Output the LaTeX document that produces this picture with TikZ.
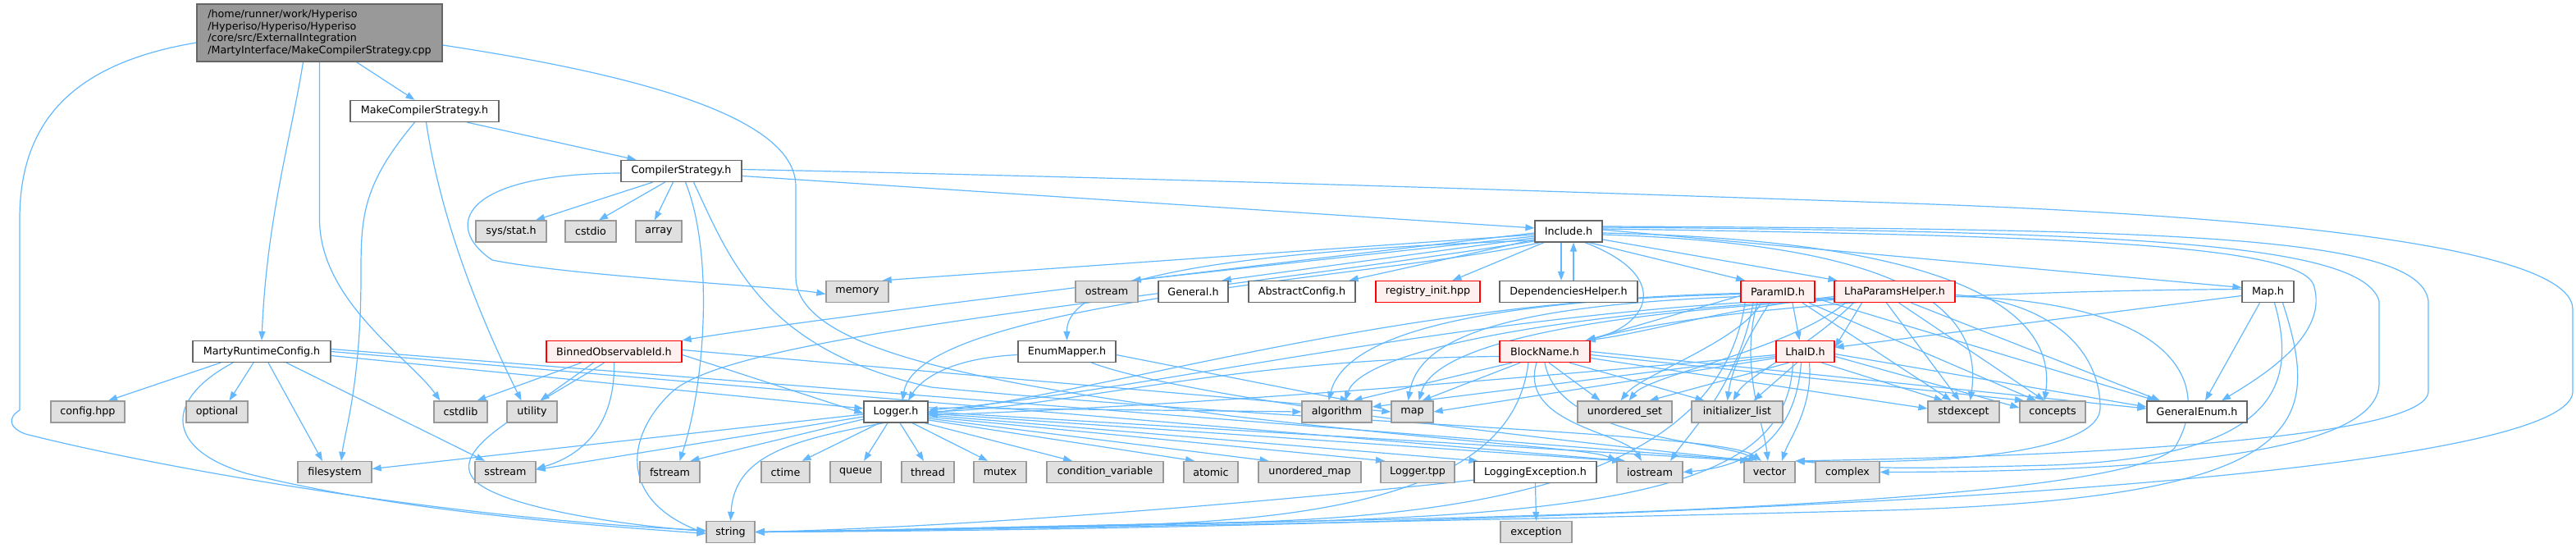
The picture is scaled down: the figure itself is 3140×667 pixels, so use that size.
\documentclass[tikz,border=0pt]{standalone}
\usepackage{fontspec}
\setmainfont{DejaVu Sans}
\usetikzlibrary{arrows.meta}
\definecolor{edgec}{HTML}{63B8FF}
\definecolor{bordw}{HTML}{666666}
\definecolor{fillm}{HTML}{999999}
\definecolor{bordg}{HTML}{999999}
\definecolor{fillg}{HTML}{E0E0E0}
\definecolor{fillr}{HTML}{FFF0F0}
\definecolor{bordr}{HTML}{FF0000}
\pgfdeclarelayer{edgelayer}
\pgfsetlayers{edgelayer,main}
\newcommand\mknode[6]{\node[#1,minimum width=#5pt] (#2) at (#3,#4) {#6};}
\begin{document}
\begin{tikzpicture}[x=1pt,y=1pt,
 box/.style={rectangle,inner sep=0pt,minimum height=26pt,line width=1.3pt,font=\fontsize{12.7pt}{14.8pt}\selectfont,text=black},
 nw/.style={box,draw=bordw,fill=white},
 nr/.style={box,draw=bordr,fill=fillr},
 ng/.style={box,draw=bordg,fill=fillg},
 dep/.style={draw=edgec,line width=1.2pt,-{Triangle[length=11pt,width=8pt]}},
]
\useasboundingbox (0,0) rectangle (3140,667);
% nodes
\node[box,draw=bordw,fill=fillm,minimum width=299pt,minimum height=70pt,align=left] (main) at (389.5,627) {/home/runner/work/Hyperiso\\/Hyperiso/Hyperiso/Hyperiso\\/core/src/ExternalIntegration\\/MartyInterface/MakeCompilerStrategy.cpp};
\mknode{nw}{MCS}{517.5}{531.5}{181}{MakeCompilerStrategy.h}
\mknode{nw}{CS}{830.5}{458.5}{147}{CompilerStrategy.h}
\mknode{ng}{sysstat}{623}{385}{86}{sys/stat.h}
\mknode{ng}{cstdio}{720}{385}{62}{cstdio}
\mknode{ng}{array}{803}{385}{56}{array}
\mknode{nw}{Include}{1912}{385}{82}{Include.h}
\mknode{ng}{memory}{1045}{311.5}{76}{memory}
\mknode{ng}{ostream}{1349}{311.5}{76}{ostream}
\mknode{nw}{General}{1454.5}{311.5}{85}{General.h}
\mknode{nw}{AbstractConfig}{1587}{311.5}{130}{AbstractConfig.h}
\mknode{nr}{registry}{1740.5}{311.5}{127}{registry\_init.hpp}
\mknode{nw}{DepHelper}{1912}{311.5}{168}{DependenciesHelper.h}
\mknode{nr}{ParamID}{2167}{311.5}{90}{ParamID.h}
\mknode{nr}{LhaPH}{2309.5}{311.5}{147}{LhaParamsHelper.h}
\mknode{nw}{Map}{2764.5}{311.5}{63}{Map.h}
\mknode{nw}{MRC}{319}{238.5}{168}{MartyRuntimeConfig.h}
\mknode{nr}{Binned}{748.5}{238.5}{165}{BinnedObservableId.h}
\mknode{nw}{EnumMapper}{1300.5}{238.5}{119}{EnumMapper.h}
\mknode{nr}{BlockName}{1883}{238.5}{110}{BlockName.h}
\mknode{nr}{LhaID}{2200.5}{238.5}{71}{LhaID.h}
\mknode{ng}{config}{107}{165}{90}{config.hpp}
\mknode{ng}{optional}{264.5}{165}{75}{optional}
\mknode{ng}{cstdlib}{561.5}{165}{65}{cstdlib}
\mknode{ng}{utility}{648.5}{165}{61}{utility}
\mknode{nw}{Logger}{1092}{165}{78}{Logger.h}
\mknode{ng}{algorithm}{1629.5}{165}{85}{algorithm}
\mknode{ng}{map}{1721.5}{165}{51}{map}
\mknode{ng}{uset}{1980.5}{165}{115}{unordered\_set}
\mknode{ng}{ilist}{2117.5}{165}{111}{initializer\_list}
\mknode{ng}{stdexcept}{2393.5}{165}{87}{stdexcept}
\mknode{ng}{concepts}{2502}{165}{80}{concepts}
\mknode{nw}{GeneralEnum}{2678}{165}{122}{GeneralEnum.h}
\mknode{ng}{filesystem}{408}{91.5}{90}{filesystem}
\mknode{ng}{sstream}{616}{91.5}{74}{sstream}
\mknode{ng}{fstream}{816.5}{91.5}{73}{fstream}
\mknode{ng}{ctime}{957.5}{91.5}{59}{ctime}
\mknode{ng}{queue}{1043}{91.5}{62}{queue}
\mknode{ng}{thread}{1131}{91.5}{64}{thread}
\mknode{ng}{mutex}{1219}{91.5}{64}{mutex}
\mknode{ng}{condvar}{1347}{91.5}{142}{condition\_variable}
\mknode{ng}{atomic}{1476}{91.5}{66}{atomic}
\mknode{ng}{umap}{1596.5}{91.5}{125}{unordered\_map}
\mknode{ng}{tpp}{1728}{91.5}{90}{Logger.tpp}
\mknode{nw}{LE}{1871.5}{91.5}{149}{LoggingException.h}
\mknode{ng}{iostream}{2011}{91.5}{80}{iostream}
\mknode{ng}{vector}{2157}{91.5}{62}{vector}
\mknode{ng}{complex}{2252}{91.5}{78}{complex}
\mknode{ng}{string}{890.5}{18.5}{59}{string}
\mknode{ng}{exception}{1872.5}{18.5}{87}{exception}
\begin{pgfonlayer}{edgelayer}
% main
\draw[dep] ([xshift=45pt]main.south) -- ([xshift=-12pt]MCS.north);
\draw[dep] ([xshift=-20pt]main.south) .. controls (355,500) and (325,400) .. (MRC.north);
\draw[dep] (main.south) -- (389.5,400) .. controls (389.5,300) and (500,230) .. ([xshift=-25pt]cstdlib.north);
\draw[dep] ([yshift=-12pt]main.west) .. controls (90,590) and (24,520) .. (24,400) -- (24,167) .. controls (8,157) and (12,145) .. (31,138) .. controls (200,95) and (550,35) .. ([yshift=2pt]string.west);
\draw[dep] ([yshift=-15pt]main.east) .. controls (750,580) and (970,530) .. (970,440) -- (970,330) .. controls (970,240) and (1200,200) .. (1500,160) .. controls (1800,125) and (1940,120) .. (iostream.north west);
% MakeCompilerStrategy.h
\draw[dep] ([xshift=52pt]MCS.south) -- ([xshift=-55pt]CS.north);
\draw[dep] ([xshift=-12pt]MCS.south) .. controls (440,440) and (440,400) .. (440,330) .. controls (440,200) and (420,140) .. ([xshift=8pt]filesystem.north);
\draw[dep] ([xshift=2pt]MCS.south) .. controls (540,380) and (600,250) .. ([xshift=-13pt]utility.north);
% CompilerStrategy.h
\draw[dep] ([xshift=-35pt]CS.south) -- ([xshift=30pt]sysstat.north);
\draw[dep] ([xshift=-20pt]CS.south) -- ([xshift=10pt]cstdio.north);
\draw[dep] ([xshift=-10pt]CS.south) -- ([xshift=-5pt]array.north);
\draw[dep] ([yshift=-6pt]CS.east) -- ([yshift=4pt]Include.west);
\draw[dep] ([yshift=-2.5pt]CS.west) .. controls (560,455) and (540,390) .. (600,350) .. controls (700,330) and (950,318) .. ([yshift=-3pt]memory.west);
\draw[dep] ([xshift=5pt]CS.south) .. controls (870,360) and (860,200) .. ([xshift=12pt]fstream.north);
\draw[dep] ([xshift=15pt]CS.south) .. controls (890,350) and (930,240) .. (1135,195) .. controls (1600,150) and (2100,140) .. ([xshift=-10pt]vector.north);
\draw[dep] ([yshift=2pt]CS.east) .. controls (1500,448) and (2000,430) .. (2300,420) .. controls (2900,400) and (3136,350) .. (3136,290) -- (3136,190) .. controls (3136,130) and (2800,85) .. (2300,57) .. controls (1800,30) and (1300,20) .. (string.east);
% Include.h
\draw[dep] ([yshift=-4pt]Include.west) -- ([xshift=-8pt]memory.north east);
\draw[dep] ([yshift=-6pt]Include.west) -- ([xshift=-8pt]ostream.north east);
\draw[dep] ([yshift=-8pt]Include.west) -- ([xshift=-8pt]General.north east);
\draw[dep] ([yshift=-10pt]Include.west) -- ([xshift=-8pt]AbstractConfig.north east);
\draw[dep] ([xshift=-30pt]Include.south) -- ([xshift=30pt]registry.north);
\draw[dep] ([xshift=-9pt]Include.south) -- ([xshift=-9pt]DepHelper.north);
\draw[dep] ([xshift=6pt]DepHelper.north) -- ([xshift=6pt]Include.south);
\draw[dep] ([xshift=25pt]Include.south) -- ([xshift=-40pt]ParamID.north);
\draw[dep] ([yshift=-10pt]Include.east) -- ([xshift=-70pt]LhaPH.north);
\draw[dep] ([yshift=2pt]Include.east) -- ([yshift=5pt]Map.west);
\draw[dep] ([yshift=-2pt]Include.west) .. controls (1500,340) and (1000,280) .. (Binned.north east);
\draw[dep] ([yshift=-11pt]Include.west) .. controls (1500,360) and (1300,330) .. (EnumMapper.north);
\draw[dep] ([xshift=-35pt]Include.south) .. controls (1700,330) and (1120,300) .. ([xshift=8pt]Logger.north);
\draw[dep] ([xshift=20pt]Include.south) .. controls (2040,330) and (2010,270) .. ([xshift=-6pt]BlockName.north east);
\draw[dep] ([yshift=-4pt]Include.east) .. controls (2300,370) and (2420,300) .. ([xshift=8pt]stdexcept.north);
\draw[dep] ([yshift=-2pt]Include.east) .. controls (2350,375) and (2510,300) .. ([xshift=-10pt]concepts.north);
\draw[dep] ([yshift=3pt]Include.east) .. controls (2500,380) and (2800,370) .. (2820,320) .. controls (2840,260) and (2760,210) .. ([xshift=30pt]GeneralEnum.north);
\draw[dep] ([yshift=5pt]Include.east) .. controls (2600,385) and (2880,370) .. (2900,300) -- (2900,200) .. controls (2900,110) and (2600,92) .. (complex.east);
\draw[dep] ([yshift=6pt]Include.east) .. controls (2650,388) and (2950,380) .. (2960,300) -- (2960,190) .. controls (2960,130) and (2500,110) .. (vector.north east);
\draw[dep] ([yshift=-12pt]Include.west) .. controls (1400,300) and (900,260) .. (820,190) .. controls (765,140) and (750,60) .. ([yshift=-2pt]string.west);
% ParamID.h
\draw[dep] ([xshift=18pt]ParamID.south) -- ([xshift=-7pt]LhaID.north);
\draw[dep] ([yshift=-5pt]ParamID.west) -- ([xshift=-5pt]BlockName.north east);
\draw[dep] ([yshift=-2pt]ParamID.west) .. controls (1700,300) and (1400,200) .. ([yshift=-2pt]Logger.east);
\draw[dep] ([yshift=-3pt]ParamID.west) .. controls (1800,300) and (1640,260) .. ([xshift=-10pt]algorithm.north);
\draw[dep] ([yshift=-6pt]ParamID.west) .. controls (1850,295) and (1730,260) .. ([xshift=-5pt]map.north);
\draw[dep] ([xshift=-20pt]ParamID.south) .. controls (2120,250) and (2000,210) .. ([xshift=-5pt]uset.north);
\draw[dep] ([xshift=-10pt]ParamID.south) .. controls (2120,240) and (2110,210) .. ([xshift=-12pt]ilist.north);
\draw[dep] ([xshift=30pt]ParamID.south) -- ([xshift=-15pt]stdexcept.north);
\draw[dep] ([xshift=38pt]ParamID.south) -- ([xshift=-20pt]concepts.north);
\draw[dep] ([yshift=-8pt]ParamID.east) -- ([xshift=-50pt]GeneralEnum.north);
\draw[dep] ([xshift=-30pt]ParamID.south) .. controls (2120,200) and (2060,140) .. ([xshift=25pt]iostream.north);
\draw[dep] ([xshift=-25pt]ParamID.south) .. controls (2120,220) and (2150,150) .. ([xshift=-2pt]vector.north);
\draw[dep] ([xshift=-40pt]ParamID.south) .. controls (2100,120) and (1900,40) .. (1500,30) .. controls (1200,24) and (1000,19) .. (string.east);
% LhaParamsHelper.h
\draw[dep] ([xshift=-40pt]LhaPH.south) -- ([yshift=5pt]LhaID.east);
\draw[dep] ([yshift=-6pt]LhaPH.west) .. controls (2100,290) and (2000,260) .. ([xshift=-5pt]BlockName.north east);
\draw[dep] ([yshift=-8pt]LhaPH.west) .. controls (1800,290) and (1400,190) .. ([yshift=2pt]Logger.east);
\draw[dep] ([yshift=-9pt]LhaPH.west) .. controls (1900,285) and (1660,240) .. ([xshift=10pt]algorithm.north);
\draw[dep] ([yshift=-10pt]LhaPH.west) .. controls (1950,285) and (1750,250) .. ([xshift=8pt]map.north);
\draw[dep] ([xshift=-60pt]LhaPH.south) .. controls (2180,240) and (2010,210) .. ([xshift=5pt]uset.north);
\draw[dep] ([xshift=-50pt]LhaPH.south) .. controls (2200,240) and (2130,210) .. ([xshift=-5pt]ilist.north);
\draw[dep] ([xshift=-10pt]LhaPH.south) -- ([xshift=-5pt]stdexcept.north);
\draw[dep] ([xshift=5pt]LhaPH.south) -- ([xshift=-10pt]concepts.north);
\draw[dep] ([xshift=20pt]LhaPH.south) -- ([xshift=-45pt]GeneralEnum.north);
\draw[dep] ([yshift=-4pt]LhaPH.east) .. controls (2500,300) and (2560,240) .. (2560,170) .. controls (2560,120) and (2400,100) .. (vector.north east);
\draw[dep] ([yshift=-6pt]LhaPH.east) .. controls (2650,300) and (2700,200) .. (2650,120) .. controls (2580,60) and (2000,38) .. (1500,30) .. controls (1200,24) and (1000,19) .. (string.east);
% Map.h
\draw[dep] ([yshift=-5pt]Map.west) -- ([yshift=5pt]LhaID.east);
\draw[dep] ([yshift=3pt]Map.west) .. controls (2400,312) and (2100,295) .. ([xshift=-5pt]BlockName.north east);
\draw[dep] ([xshift=-10pt]Map.south) -- ([xshift=10pt]GeneralEnum.north);
\draw[dep] ([xshift=8pt]Map.south) .. controls (2800,200) and (2780,110) .. (2500,100) .. controls (2300,95) .. (vector.north east);
\draw[dep] ([xshift=18pt]Map.south) .. controls (2830,150) and (2820,60) .. (2300,45) .. controls (1800,32) and (1100,20) .. (string.east);
% MartyRuntimeConfig.h
\draw[dep] ([xshift=-50pt]MRC.south) -- ([xshift=25pt]config.north);
\draw[dep] ([xshift=-10pt]MRC.south) -- ([xshift=15pt]optional.north);
\draw[dep] ([xshift=8pt]MRC.south) -- ([xshift=-15pt]filesystem.north);
\draw[dep] ([xshift=30pt]MRC.south) -- ([xshift=-25pt]sstream.north);
\draw[dep] ([xshift=-35pt]MRC.south) .. controls (200,180) and (200,120) .. (300,90) .. controls (500,40) and (750,25) .. ([yshift=-2pt]string.west);
\draw[dep] ([yshift=-5pt]MRC.east) -- ([yshift=4pt]Logger.west);
\draw[dep] ([yshift=0pt]MRC.east) -- ([xshift=-30pt]iostream.north);
\draw[dep] ([yshift=3pt]MRC.east) -- ([xshift=-20pt]vector.north);
% BinnedObservableId.h
\draw[dep] ([xshift=-40pt]Binned.south) -- ([xshift=20pt]cstdlib.north);
\draw[dep] ([xshift=-25pt]Binned.south) -- ([xshift=10pt]utility.north);
\draw[dep] (Binned.south) .. controls (750,160) and (720,115) .. ([yshift=4pt]sstream.east);
\draw[dep] ([xshift=-12pt]Binned.south) .. controls (650,170) and (540,120) .. (580,80) .. controls (620,45) and (780,25) .. ([yshift=1pt]string.west);
\draw[dep] ([yshift=-4pt]Binned.east) -- ([yshift=-2pt]Logger.west);
\draw[dep] ([yshift=2pt]Binned.east) -- (map.west);
% EnumMapper.h
\draw[dep] ([yshift=-4pt]EnumMapper.west) .. controls (1150,230) and (1120,200) .. ([xshift=15pt]Logger.north);
\draw[dep] ([yshift=-4pt]EnumMapper.east) -- ([xshift=15pt]algorithm.north);
\draw[dep] ([xshift=30pt]EnumMapper.south) .. controls (1450,180) and (1900,130) .. ([xshift=-20pt]vector.north);
% BlockName.h
\draw[dep] ([yshift=-6pt]BlockName.west) .. controls (1500,230) and (1300,170) .. (Logger.east);
\draw[dep] ([xshift=-40pt]BlockName.south) -- ([xshift=20pt]algorithm.north);
\draw[dep] ([xshift=-30pt]BlockName.south) -- ([xshift=12pt]map.north);
\draw[dep] ([xshift=5pt]BlockName.south) -- ([xshift=-30pt]uset.north);
\draw[dep] ([xshift=30pt]BlockName.south) -- ([xshift=-40pt]ilist.north);
\draw[dep] ([yshift=-8pt]BlockName.east) -- ([yshift=4pt]stdexcept.west);
\draw[dep] ([yshift=-4pt]BlockName.east) -- ([xshift=-35pt]concepts.north);
\draw[dep] (BlockName.east) -- ([yshift=4pt]GeneralEnum.west);
\draw[dep] ([xshift=-10pt]BlockName.south) .. controls (1850,150) and (1980,140) .. ([xshift=-10pt]iostream.north);
\draw[dep] (BlockName.south) .. controls (1900,130) and (2100,130) .. ([xshift=-15pt]vector.north);
\draw[dep] ([xshift=-20pt]BlockName.south) .. controls (1850,120) and (1750,40) .. (1400,28) .. controls (1200,22) and (1000,19) .. (string.east);
% LhaID.h
\draw[dep] ([yshift=-4pt]LhaID.west) .. controls (1800,200) and (1400,170) .. ([yshift=-4pt]Logger.east);
\draw[dep] ([yshift=-6pt]LhaID.west) -- ([yshift=6pt]algorithm.east);
\draw[dep] ([yshift=-8pt]LhaID.west) -- (map.east);
\draw[dep] ([xshift=-20pt]LhaID.south) -- ([xshift=30pt]uset.north);
\draw[dep] ([xshift=-10pt]LhaID.south) -- ([xshift=20pt]ilist.north);
\draw[dep] ([xshift=20pt]LhaID.south) -- ([xshift=-25pt]stdexcept.north);
\draw[dep] ([yshift=-6pt]LhaID.east) -- ([yshift=5pt]concepts.west);
\draw[dep] ([yshift=-3pt]LhaID.east) -- ([yshift=6pt]GeneralEnum.west);
\draw[dep] ([xshift=-5pt]LhaID.south) .. controls (2190,150) and (2150,100) .. (iostream.east);
\draw[dep] ([xshift=5pt]LhaID.south) .. controls (2210,170) and (2180,130) .. ([xshift=15pt]vector.north);
\draw[dep] ([xshift=-15pt]LhaID.south) .. controls (2180,100) and (2050,45) .. (1600,32) .. controls (1300,24) and (1000,19) .. (string.east);
% Logger.h
\draw[dep] ([yshift=-3pt]Logger.west) -- ([yshift=4pt]filesystem.east);
\draw[dep] ([yshift=-6pt]Logger.west) -- ([yshift=3pt]sstream.east);
\draw[dep] ([yshift=-9pt]Logger.west) -- ([xshift=25pt]fstream.north);
\draw[dep] ([xshift=-20pt]Logger.south) -- ([xshift=20pt]ctime.north);
\draw[dep] ([xshift=-10pt]Logger.south) -- ([xshift=10pt]queue.north);
\draw[dep] ([xshift=5pt]Logger.south) -- ([xshift=-5pt]thread.north);
\draw[dep] ([xshift=20pt]Logger.south) -- ([xshift=-15pt]mutex.north);
\draw[dep] ([xshift=35pt]Logger.south) -- ([xshift=-40pt]condvar.north);
\draw[dep] ([yshift=-10pt]Logger.east) -- ([xshift=-20pt]atomic.north);
\draw[dep] ([yshift=-8pt]Logger.east) -- ([xshift=-50pt]umap.north);
\draw[dep] ([yshift=-6pt]Logger.east) -- ([xshift=-40pt]tpp.north);
\draw[dep] ([yshift=-4pt]Logger.east) -- ([xshift=-70pt]LE.north);
\draw[dep] ([yshift=-2pt]Logger.east) -- ([xshift=-35pt]iostream.north);
\draw[dep] ([yshift=0pt]Logger.east) -- ([xshift=-25pt]vector.north);
\draw[dep] ([yshift=5pt]Logger.east) -- (algorithm.west);
\draw[dep] ([xshift=-15pt]Logger.south) .. controls (960,130) and (895,110) .. (string.north);
% LoggingException.h
\draw[dep] (LE.south) -- (exception.north);
\draw[dep] ([yshift=4pt]LE.south west) .. controls (1600,60) and (1200,25) .. (string.east);
\end{pgfonlayer}
\end{tikzpicture}
\end{document}
